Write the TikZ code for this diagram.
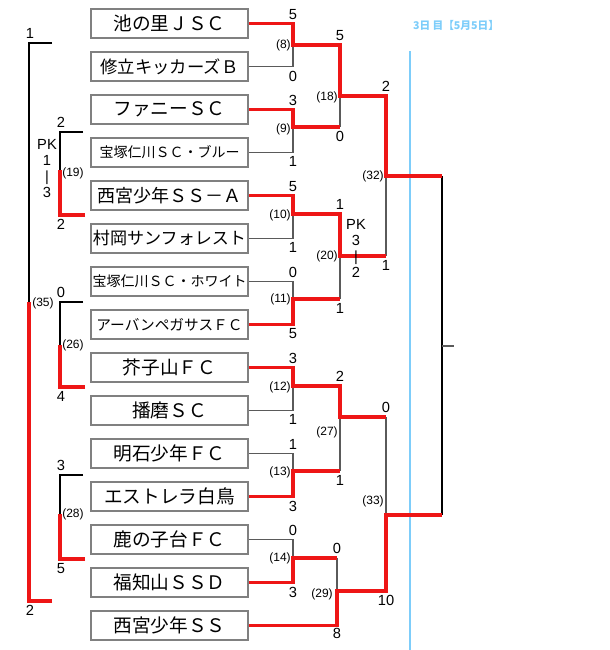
\documentclass[tikz,border=0pt]{standalone}
\usepackage{fontspec}
\setmainfont{Liberation Sans}
\newfontfamily\jpfont{Noto Sans CJK JP}
\usetikzlibrary{calc}
\definecolor{wincol}{RGB}{238,22,22}
\definecolor{boxgray}{RGB}{128,128,128}
\definecolor{linegray}{RGB}{90,90,90}
\definecolor{daycol}{RGB}{125,205,250}

\begin{document}
\begin{tikzpicture}[x=0.75pt, y=-0.75pt,
  team/.style={draw=boxgray, line width=1.5pt, minimum width=118pt,
               minimum height=21.75pt, inner sep=0pt},
  win/.style={draw=wincol, line width=2.6pt},
  lose/.style={draw=linegray, line width=0.8pt},
  side/.style={draw=black, line width=0.8pt},
  score/.style={font=\fontsize{11}{12}\selectfont, inner sep=3pt},
  num/.style={font=\fontsize{9}{10}\selectfont, inner sep=1.5pt},
  pk/.style={font=\fontsize{11}{12}\selectfont, align=center, inner sep=0pt}]
  \useasboundingbox (0,0) rectangle (610,650);

  % teams
  \foreach \i/\name/\fs in {1/池の里ＪＳＣ/14, 2/修立キッカーズＢ/13,
      3/ファニーＳＣ/14, 4/宝塚仁川ＳＣ・ブルー/10.5, 5/西宮少年ＳＳ－Ａ/13.5,
      6/村岡サンフォレスト/12.8, 7/宝塚仁川ＳＣ・ホワイト/10.5,
      8/アーバンペガサスＦＣ/11, 9/芥子山ＦＣ/14, 10/播磨ＳＣ/14,
      11/明石少年ＦＣ/14, 12/エストレラ白鳥/14, 13/鹿の子台ＦＣ/14,
      14/福知山ＳＳＤ/14, 15/西宮少年ＳＳ/14}
    \node[team, font=\jpfont\fontsize{\fs}{16}\selectfont] (t\i)
      at (169.5,{23.5+43*(\i-1)}) {\name};

  % match points
  \coordinate (m8) at (293,45);   \coordinate (m9) at (293,127);
  \coordinate (m10) at (293,214); \coordinate (m11) at (293,299);
  \coordinate (m12) at (293,386); \coordinate (m13) at (293,471);
  \coordinate (m14) at (293,558);
  \coordinate (m18) at (340,96);  \coordinate (m20) at (340,256);
  \coordinate (m27) at (340,417); \coordinate (m29) at (337,591);
  \coordinate (m32) at (386,176); \coordinate (m33) at (386,515);
  \coordinate (fin) at (442,346); \coordinate (finout) at (454,346);

  % day line
  \node[font=\jpfont\bfseries\fontsize{8}{9}\selectfont, text=daycol] (day)
    at (456,25) {3日 目【5月5日】};
  \coordinate (daytop) at (410,51);
  \coordinate (daybot) at (410,650);
  \draw[daycol, line width=1.6pt] (daytop) -- (daybot);

  % losers
  \draw[lose] (t2.east) -| (m8);
  \draw[lose] (t4.east) -| (m9);
  \draw[lose] (t6.east) -| (m10);
  \draw[lose] (t7.east) -| (m11);
  \draw[lose] (t10.east) -| (m12);
  \draw[lose] (t11.east) -| (m13);
  \draw[lose] (t13.east) -| (m14);
  \draw[lose] (m18 |- m9) -- (m18);
  \draw[lose] (m20 |- m11) -- (m20);
  \draw[lose] (m27 |- m13) -- (m27);
  \draw[lose] (m29 |- m14) -- (m29);
  \draw[lose] (m32 |- m20) -- (m32);
  \draw[lose] (m33 |- m27) -- (m33);
  \draw[side] (fin |- m32) -- (fin |- m33);
  \draw[lose] (fin) -- (finout);

  % winners
  \draw[win] (t1.east) -| (m8) -| (m18) -| (m32) -- (fin |- m32);
  \draw[win] (t3.east) -| (m9) -- (m18 |- m9);
  \draw[win] (t5.east) -| (m10) -| (m20) -- (m32 |- m20);
  \draw[win] (t8.east) -| (m11) -- (m20 |- m11);
  \draw[win] (t9.east) -| (m12) -| (m27) -- (m33 |- m27);
  \draw[win] (t12.east) -| (m13) -- (m27 |- m13);
  \draw[win] (t14.east) -| (m14) -- (m29 |- m14);
  \draw[win] (t15.east) -| (m29) -| (m33) -- (fin |- m33);

  % left brackets
  \coordinate (a19) at (83,132);  \coordinate (b19) at (85,215);
  \coordinate (m19) at (60,170);
  \coordinate (a26) at (83,302);  \coordinate (b26) at (85,387);
  \coordinate (m26) at (60,345);
  \coordinate (a28) at (83,475);  \coordinate (b28) at (85,559);
  \coordinate (m28) at (60,514);
  \coordinate (a35) at (52,43);   \coordinate (b35) at (52,601);
  \coordinate (m35) at (29,302);
  \foreach \m in {19,26,28,35} {
    \draw[side] (a\m) -| (m\m);
    \draw[win] (b\m) -| (m\m);
  }

  % scores
  \foreach \m/\xx/\yt/\yb/\st/\sb in {8/293/23.5/66.5/5/0, 9/293/109.5/152.5/3/1,
      10/293/195.5/238.5/5/1, 11/293/281.5/324.5/0/5, 12/293/367.5/410.5/3/1,
      13/293/453.5/496.5/1/3, 14/293/539.5/582.5/0/3, 18/340/45/127/5/0,
      20/340/214/299/1/1, 27/340/386/471/2/1, 29/337/558/624/0/8,
      32/386/96/256/2/1, 33/386/417/591/0/10, 19/61/132/215/2/2,
      26/61/302/387/0/4, 28/61/475/559/3/5, 35/30/43/601/1/2} {
    \node[score, above] (st\m) at (\xx,\yt) {\st};
    \node[score, below] (sb\m) at (\xx,\yb) {\sb};
  }

  % match numbers
  \foreach \m/\xx/\yy/\dir in {8/293/45/left, 9/293/129/left, 10/293/215/left,
      11/293/299/left, 12/293/387/left, 13/293/472/left, 14/293/558/left,
      18/340/97/left, 20/340/256/left, 27/340/432/left, 29/335/594/left,
      32/386/176/left, 33/386/501/left, 19/60/173/right, 26/60/345/right,
      28/60/514/right, 35/30/303/right}
    \node[num, \dir] (n\m) at (\xx,\yy) {(\m)};

  % penalty kicks
  \node[pk] (pk19) at (47,169) {PK\\1\\|\\3};
  \node[pk] (pk20) at (356,248) {PK\\3\\|\\2};
\end{tikzpicture}
\end{document}
